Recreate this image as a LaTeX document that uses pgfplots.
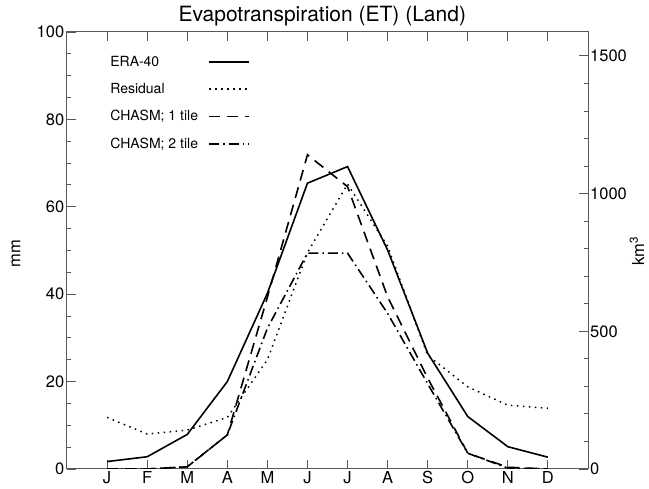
\documentclass[border=0pt]{standalone}
\usepackage{fontspec}
\setmainfont{TeX Gyre Heros}
\usepackage{pgfplots}
\pgfplotsset{compat=1.18}
\definecolor{axisgray}{gray}{0.35}
\newcommand{\legtxt}[1]{\fontsize{14}{15}\selectfont\makebox[96pt][l]{\vphantom{Ag;}#1}}
\begin{document}
\begin{tikzpicture}[x=1pt,y=1pt]
\path[use as bounding box] (-67,-20) rectangle (582,469);
\begin{axis}[
  at={(0pt,0pt)}, anchor=south west,
  scale only axis, width=521pt, height=437pt,
  xmin=0, xmax=13, ymin=0, ymax=100,
  xtick={1,...,12},
  xticklabels={J,F,M,A,M,J,J,A,S,O,N,D},
  xtick pos=both,
  ytick={0,20,40,60,80,100},
  minor y tick num=3,
  ytick pos=left,
  tick align=inside,
  major tick length=9pt, minor tick length=4pt,
  axis line style={axisgray, line width=1pt},
  every tick/.style={axisgray, line width=0.9pt},
  tick label style={font=\fontsize{16.5}{18}\selectfont},
  /pgf/number format/assume math mode=true,
  yticklabel style={inner sep=2pt},
  xticklabel style={inner sep=1.5pt},
  title={Evapotranspiration (ET) (Land)},
  title style={font=\fontsize{21}{22}\selectfont, anchor=base, at={(0.49,1)}, yshift=4pt},
  legend plot pos=right,
  legend cell align=left,
  legend image code/.code={\draw[#1] (0pt,0pt) -- (40pt,0pt);},
  legend style={draw=none, fill=none, at={(rel axis cs:0.072,0.956)}, anchor=north west,
    row sep=11.5pt, column sep=0pt,
    nodes={inner sep=2pt}},
  line width=1.6pt,
]
\addplot[black, solid, line width=1.6pt] coordinates {
(1,1.7) (2,2.8) (3,7.9) (4,20.0) (5,40.2) (6,65.4) (7,69.2) (8,50.1) (9,26.5) (10,12.0) (11,5.1) (12,2.7)};
\addlegendentry{\legtxt{ERA-40}}
\addplot[black, line width=1.5pt, dash pattern=on 1.5pt off 4.5pt] coordinates {
(1,11.8) (2,8.0) (3,8.9) (4,11.8) (5,25.0) (6,49.5) (7,65.2) (8,51.0) (9,26.0) (10,18.8) (11,14.6) (12,13.9)};
\addlegendentry{\legtxt{Residual}}
\addplot[black, line width=1.6pt, dash pattern=on 11pt off 7pt] coordinates {
(1,0) (2,0) (3,0.5) (4,7.8) (5,39.3) (6,71.9) (7,64.6) (8,39.4) (9,20.8) (10,3.6) (11,0.4) (12,0)};
\addlegendentry{\legtxt{CHASM; 1 tile}}
\addplot[black, line width=1.6pt, dash pattern=on 10pt off 4pt on 1.5pt off 4pt] coordinates {
(1,0) (2,0) (3,0.5) (4,7.8) (5,32.2) (6,49.4) (7,49.4) (8,35.6) (9,19.5) (10,3.6) (11,0.2) (12,0)};
\addlegendentry{\legtxt{CHASM; 2 tile}}
\end{axis}
\begin{axis}[
  at={(0pt,0pt)}, anchor=south west,
  scale only axis, width=521pt, height=437pt,
  xmin=0, xmax=13, ymin=0, ymax=1587,
  hide x axis,
  axis y line*=right,
  ytick={0,500,1000,1500},
  minor ytick={100,200,300,400,600,700,800,900,1100,1200,1300,1400},
  tick align=inside,
  major tick length=9pt, minor tick length=4pt,
  axis line style={axisgray, line width=1pt, -},
  every tick/.style={axisgray, line width=0.9pt},
  tick label style={font=\fontsize{16.5}{18}\selectfont},
  /pgf/number format/assume math mode=true,
  /pgf/number format/1000 sep={},
  yticklabel style={inner sep=2pt},
]
\end{axis}
\node[rotate=90, font=\fontsize{16.5}{18}\selectfont] at (-51,215) {mm};
\node[rotate=90, font=\fontsize{16.5}{18}\selectfont] at (570,218) {km\textsuperscript{3}};
\end{tikzpicture}
\end{document}
